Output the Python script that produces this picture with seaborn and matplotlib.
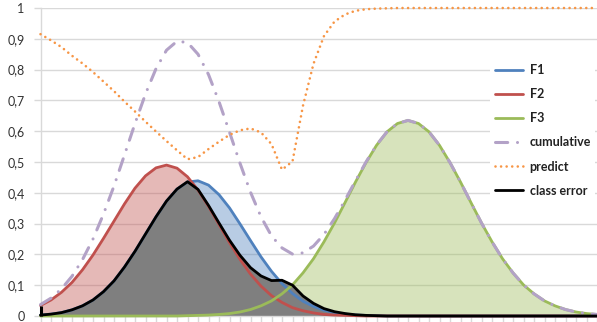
import numpy as np
import matplotlib
matplotlib.use("Agg")
import matplotlib.pyplot as plt
from matplotlib.lines import Line2D
import seaborn as sns

# Class-conditional densities (already weighted by the class priors)
f1 = [0.003, 0.006, 0.011, 0.020, 0.033, 0.052, 0.079, 0.114, 0.159, 0.210,
      0.266, 0.322, 0.373, 0.412, 0.435, 0.439, 0.425, 0.394, 0.351, 0.299,
      0.245, 0.192, 0.145, 0.105, 0.073, 0.048, 0.031, 0.019, 0.011, 0.006,
      0.003, 0.002, 0.001, 0.0, 0.0, 0.0, 0.0, 0.0, 0.0, 0.0,
      0.0, 0.0, 0.0, 0.0, 0.0, 0.0, 0.0, 0.0, 0.0, 0.0,
      0.0, 0.0, 0.0, 0.0]
f2 = [0.034, 0.052, 0.077, 0.109, 0.150, 0.198, 0.252, 0.308, 0.364, 0.415,
      0.455, 0.481, 0.490, 0.480, 0.452, 0.409, 0.356, 0.297, 0.238, 0.184,
      0.136, 0.097, 0.066, 0.044, 0.027, 0.017, 0.010, 0.005, 0.003, 0.002,
      0.001, 0.0, 0.0, 0.0, 0.0, 0.0, 0.0, 0.0, 0.0, 0.0,
      0.0, 0.0, 0.0, 0.0, 0.0, 0.0, 0.0, 0.0, 0.0, 0.0,
      0.0, 0.0, 0.0, 0.0]
f3 = [0.0, 0.0, 0.0, 0.0, 0.0, 0.0, 0.0, 0.0, 0.0, 0.0,
      0.0, 0.0, 0.0, 0.000, 0.001, 0.002, 0.003, 0.005, 0.008, 0.013,
      0.021, 0.033, 0.049, 0.072, 0.101, 0.140, 0.186, 0.241, 0.302, 0.368,
      0.435, 0.498, 0.554, 0.598, 0.625, 0.635, 0.625, 0.598, 0.554, 0.498,
      0.435, 0.368, 0.302, 0.241, 0.186, 0.140, 0.101, 0.072, 0.049, 0.033,
      0.021, 0.013, 0.008, 0.005]
cumulative = [0.037, 0.058, 0.088, 0.129, 0.183, 0.250, 0.331, 0.422, 0.523, 0.625,
              0.721, 0.803, 0.863, 0.892, 0.888, 0.850, 0.784, 0.696, 0.597, 0.496,
              0.402, 0.322, 0.260, 0.221, 0.201, 0.205, 0.227, 0.265, 0.316, 0.376,
              0.439, 0.500, 0.555, 0.598, 0.625, 0.635, 0.625, 0.598, 0.554, 0.498,
              0.435, 0.368, 0.302, 0.241, 0.186, 0.140, 0.101, 0.072, 0.049, 0.033,
              0.021, 0.013, 0.008, 0.005]
predict = [0.915, 0.895, 0.873, 0.845, 0.820, 0.792, 0.761, 0.730, 0.696, 0.664,
           0.631, 0.599, 0.568, 0.538, 0.509, 0.516, 0.542, 0.566, 0.588, 0.603,
           0.609, 0.596, 0.558, 0.475, 0.502, 0.683, 0.819, 0.909, 0.956, 0.979,
           0.991, 0.996, 0.998, 0.999, 1.0, 1.0, 1.0, 1.0, 1.0, 1.0,
           1.0, 1.0, 1.0, 1.0, 1.0, 1.0, 1.0, 1.0, 1.0, 1.0,
           1.0, 1.0, 1.0, 1.0]
class_error = [0.003, 0.006, 0.011, 0.020, 0.033, 0.052, 0.079, 0.114, 0.159, 0.210,
               0.266, 0.322, 0.373, 0.412, 0.436, 0.411, 0.359, 0.302, 0.246, 0.197,
               0.157, 0.130, 0.115, 0.116, 0.100, 0.065, 0.041, 0.024, 0.014, 0.008,
               0.004, 0.002, 0.001, 0.0, 0.0, 0.0, 0.0, 0.0, 0.0, 0.0,
               0.0, 0.0, 0.0, 0.0, 0.0, 0.0, 0.0, 0.0, 0.0, 0.0,
               0.0, 0.0, 0.0, 0.0]

series_labels = ["F1", "F2", "F3", "cumulative", "predict", "class error"]
y_ticks = [0.0, 0.1, 0.2, 0.3, 0.4, 0.5, 0.6, 0.7, 0.8, 0.9, 1.0]
y_tick_labels = ["0", "0,1", "0,2", "0,3", "0,4", "0,5", "0,6", "0,7", "0,8", "0,9", "1"]

BLUE, RED, GREEN = "#4f81bd", "#c0504d", "#9bbb59"
PURPLE, ORANGE = "#b3a2c7", "#f79646"
GRID = "#d9d9d9"

x = np.arange(len(f1))

sns.set_theme(style="white")
plt.rcParams["font.family"] = ["Lato", "DejaVu Sans"]

fig = plt.figure(figsize=(5.97, 3.22), dpi=100)
ax = fig.add_axes([40.5 / 597, 6 / 322, 556.5 / 597, 308 / 322])

# translucent areas under each class curve, opaque grey for the error region
ax.fill_between(x, 0, f1, color=BLUE, alpha=0.4, lw=0, zorder=1)
ax.fill_between(x, 0, f2, color=RED, alpha=0.4, lw=0, zorder=1)
ax.fill_between(x, 0, f3, color=GREEN, alpha=0.4, lw=0, zorder=1)
ax.fill_between(x, 0, class_error, color="#7f7f7f", lw=0, zorder=2)

line_kw = dict(ax=ax, clip_on=False)
sns.lineplot(x=x, y=f1, color=BLUE, lw=2.0, zorder=3, **line_kw)
sns.lineplot(x=x, y=f2, color=RED, lw=2.0, zorder=3, **line_kw)
sns.lineplot(x=x, y=f3, color=GREEN, lw=2.0, zorder=3, **line_kw)
sns.lineplot(x=x, y=cumulative, color=PURPLE, lw=2.2, zorder=4, **line_kw)
sns.lineplot(x=x, y=predict, color=ORANGE, lw=1.9, zorder=4, **line_kw)
sns.lineplot(x=x, y=class_error, color="black", lw=2.0, zorder=5, **line_kw)

lines = ax.get_lines()[-6:]
for ln in lines:
    ln.set_solid_joinstyle("round")
lines[3].set_dashes((4.0, 3.2, 0.01, 3.2))
lines[3].set_dash_capstyle("round")
lines[4].set_dashes((0.01, 2.1))
lines[4].set_dash_capstyle("round")

# edge of the error region at the first category
ax.vlines(x[0], 0, f2[0], color="black", lw=2.2, zorder=5, clip_on=False)

ax.set_xlim(x[0], x[-1])
ax.set_ylim(0, 1)
ax.set_xticks(x)
ax.set_xticklabels([])
ax.set_yticks(y_ticks)
ax.set_yticklabels(y_tick_labels)
ax.yaxis.grid(True, color=GRID, lw=1.0)
ax.xaxis.grid(False)
ax.set_axisbelow(True)
ax.tick_params(axis="y", length=5, width=1, color=GRID, pad=6.5,
               labelsize=9, labelcolor="#333333", left=True)
ax.tick_params(axis="x", length=4, width=1, color=GRID, bottom=True)
for side in ("top", "right"):
    ax.spines[side].set_visible(False)
for side in ("left", "bottom"):
    ax.spines[side].set_color(GRID)
    ax.spines[side].set_linewidth(1.0)

handles = []
for ln in lines:
    h = Line2D([], [], color=ln.get_color(), lw=ln.get_linewidth())
    h.update_from(ln)
    handles.append(h)
leg = ax.legend(handles, series_labels, loc="upper left",
                bbox_to_anchor=(0.808, 0.832), frameon=True, facecolor="white",
                edgecolor="none", framealpha=1, fancybox=False,
                prop={"weight": "bold", "size": 9}, handlelength=2.3,
                handletextpad=0.5, labelspacing=0.97, borderpad=0.35,
                borderaxespad=0)
for t in leg.get_texts():
    t.set_color("#222222")

fig.savefig("out.png", dpi=100)
